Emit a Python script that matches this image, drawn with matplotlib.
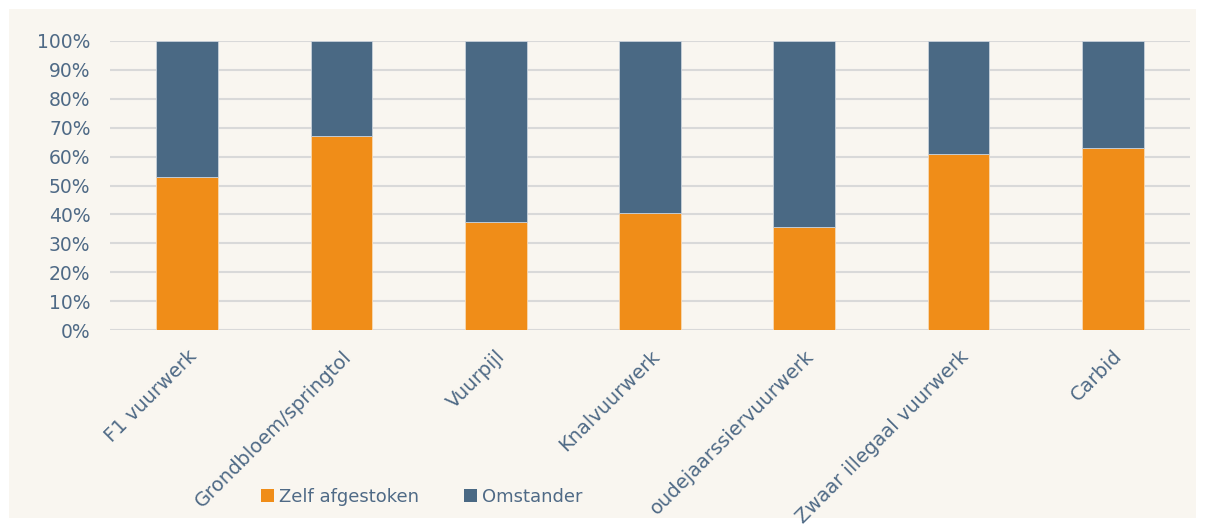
import matplotlib
matplotlib.use("Agg")
import matplotlib.pyplot as plt
from matplotlib.patches import Rectangle, Patch
import numpy as np

categories = ["F1 vuurwerk", "Grondbloem/springtol", "Vuurpijl", "Knalvuurwerk",
              "oudejaarssiervuurwerk", "Zwaar illegaal vuurwerk", "Carbid"]
zelf = [53, 67, 37.5, 40.5, 35.5, 61, 63]
omstander = [100 - v for v in zelf]
yticks = list(range(0, 101, 10))
series_names = ["Zelf afgestoken", "Omstander"]

orange = "#F08D18"
blue = "#4A6984"
txt = "#4F6A86"
bg = "#F9F6F0"

fig = plt.figure(figsize=(12.05, 5.27), dpi=100, facecolor="white")
fig.patches.append(Rectangle((9/1205, 9/527), 1 - 18/1205, 1 - 18/527,
                             transform=fig.transFigure, facecolor=bg, edgecolor="none", zorder=-10))
ax = fig.add_axes([110/1205, 1 - 330/527, 1080/1205, 289/527])
ax.set_facecolor(bg)

x = np.arange(len(categories))
ax.bar(x, zelf, width=0.4, color=orange, edgecolor="#F6D9B5", linewidth=0.6, zorder=3)
ax.bar(x, omstander, bottom=zelf, width=0.4, color=blue, edgecolor="#C9D2DB", linewidth=0.6, zorder=3)

ax.set_xlim(-0.5, len(categories) - 0.5)
ax.set_ylim(0, 100)
ax.set_yticks(yticks)
ax.set_yticklabels([f"{v}%" for v in yticks], color=txt, fontsize=13.5)
ax.yaxis.grid(True, color="#D9D9D9", linewidth=1.5, zorder=0)
ax.set_axisbelow(True)
for s in ax.spines.values():
    s.set_visible(False)
ax.tick_params(axis="both", length=0)
ax.tick_params(axis="y", pad=14)
ax.set_xticks(x)
ax.set_xticklabels(categories, rotation=45, ha="right", rotation_mode="anchor",
                   color=txt, fontsize=14)
ax.tick_params(axis="x", pad=12)

handles = [Patch(facecolor=orange, edgecolor="none"), Patch(facecolor=blue, edgecolor="none")]
leg = fig.legend(handles, series_names, loc="center", bbox_to_anchor=(422/1205, 1 - 497/527),
                 ncol=2, frameon=False, fontsize=13, labelcolor=txt,
                 handlelength=0.7, handleheight=0.7, handletextpad=0.3, columnspacing=2.5)

fig.savefig("out.png", dpi=100, facecolor="white")
